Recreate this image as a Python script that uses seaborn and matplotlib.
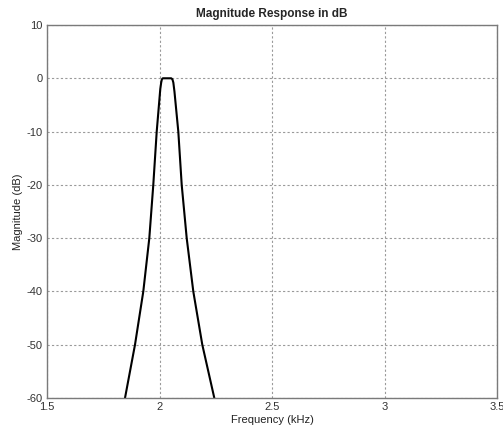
import matplotlib
matplotlib.use("Agg")
import matplotlib.pyplot as plt
import seaborn as sns
import pandas as pd

freq_khz = [1.8467, 1.8911, 1.928, 1.9547, 1.9724, 1.9876, 2.0035, 2.0075, 2.0105, 2.0145,
            2.052, 2.0575, 2.0615, 2.0665, 2.0836, 2.0987, 2.1209, 2.1502, 2.1902, 2.2436]
mag_db = [-60, -50, -40, -30, -20, -10, -2, -0.8, -0.2, 0,
          0, -0.2, -0.8, -2.5, -10, -20, -30, -40, -50, -60]
x_ticks = [1.5, 2, 2.5, 3, 3.5]
x_labels = ["1.5", "2", "2.5", "3", "3.5"]
y_ticks = [-60, -50, -40, -30, -20, -10, 0, 10]

sns.set_style("white")
plt.rcParams['font.family'] = ['Liberation Sans', 'DejaVu Sans']
plt.rcParams['axes.unicode_minus'] = False

fig = plt.figure(figsize=(5.03, 4.34), dpi=100)
ax = fig.add_axes([47/503, 36/434, 450/503, 373/434])
df = pd.DataFrame({"f": freq_khz, "m": mag_db})
sns.lineplot(data=df, x="f", y="m", ax=ax, color="black", linewidth=1.5, sort=False)

ax.set_xlim(1.5, 3.5)
ax.set_ylim(-60, 10)
ax.set_xticks(x_ticks)
ax.set_xticklabels(x_labels)
ax.set_yticks(y_ticks)
ax.grid(True, color="#9a9a9a", linestyle=(0, (2, 2)), linewidth=0.8)
for s in ax.spines.values():
    s.set_color("#7a7a7a")
    s.set_linewidth(1.0)
ax.tick_params(direction="in", length=4, colors="#7a7a7a", labelcolor="#333333", labelsize=8, pad=3)
ax.set_xlabel("Frequency (kHz)", fontsize=8, color="#222222", labelpad=2)
ax.set_ylabel("Magnitude (dB)", fontsize=8, color="#222222", labelpad=3)
ax.set_title("Magnitude Response in dB", fontsize=8.5, fontweight="bold", pad=6)

fig.savefig("out.png", dpi=100)
